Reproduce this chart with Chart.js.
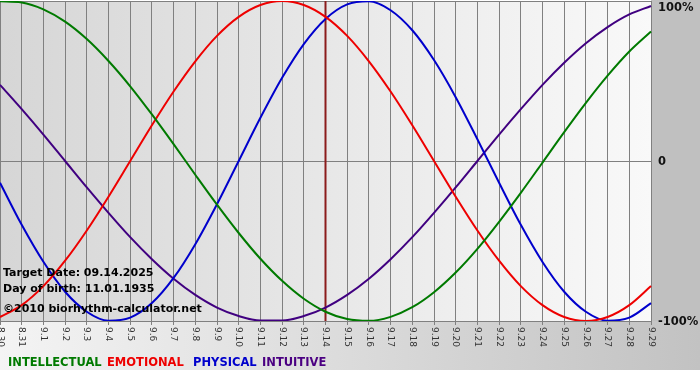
<!DOCTYPE html>
<html>
<head>
<meta charset="utf-8">
<script src="https://cdn.jsdelivr.net/npm/chart.js@4"></script>
<style>
    html, body { margin: 0; padding: 0; background: #ffffff; }
    canvas { display: block; }
</style>
</head>
<body>
<canvas id="bioChart" width="700" height="380"></canvas>
<script>
// Days shown on the x axis (month.day)
const dayLabels = [
    "8.30", "8.31", "9.1", "9.2", "9.3", "9.4", "9.5", "9.6", "9.7", "9.8",
    "9.9", "9.10", "9.11", "9.12", "9.13", "9.14", "9.15", "9.16", "9.17", "9.18",
    "9.19", "9.20", "9.21", "9.22", "9.23", "9.24", "9.25", "9.26", "9.27", "9.28", "9.29"
];

// Cycle values in percent
const intellectual = [
    99.8, 99.1, 94.8, 87.1, 76.2, 62.5, 46.7, 29.1, 10.5, -8.6,
    -27.3, -45.0, -61.1, -74.9, -86.1, -94.2, -98.8, -99.9, -97.4, -91.4,
    -82.0, -69.7, -54.9, -38.0, -19.9, -1.0, 18.0, 36.3, 53.3, 68.4, 80.9
];
const emotional = [
    -97.5, -90.1, -78.2, -62.3, -43.4, -22.3, 0.0, 22.3, 43.4, 62.3,
    78.2, 90.1, 97.5, 100.0, 97.5, 90.1, 78.2, 62.3, 43.4, 22.3,
    0.0, -22.3, -43.4, -62.3, -78.2, -90.1, -97.5, -100.0, -97.5, -90.1, -78.2
];
const physical = [
    -13.6, -39.9, -63.0, -81.7, -94.2, -99.8, -97.9, -88.8, -73.1, -52.0,
    -27.0, 0.0, 27.0, 52.0, 73.1, 88.8, 97.9, 99.8, 94.2, 81.7,
    63.1, 39.9, 13.6, -13.6, -39.9, -63.1, -81.7, -94.2, -99.8, -97.9, -88.8
];
const intuitive = [
    47.6, 32.4, 16.5, 0.0, -16.5, -32.4, -47.6, -61.4, -73.6, -83.7,
    -91.6, -96.9, -99.7, -99.7, -96.9, -91.6, -83.7, -73.6, -61.4, -47.6,
    -32.4, -16.5, 0.0, 16.5, 32.4, 47.6, 61.4, 73.6, 83.7, 91.6, 96.9
];

const targetDay = "9.14";
const infoLines = ["Target Date: 09.14.2025", "Day of birth: 11.01.1935", "\u00a92010 biorhythm-calculator.net"];
const legendNames = ["INTELLECTUAL", "EMOTIONAL", "PHYSICAL", "INTUITIVE"];
const legendColors = ["#007a00", "#ee0000", "#0000cc", "#4b0082"];
const yTickValues = [100, 0, -100];
const yTickLabels = ["100%", "0", "-100%"];

// backgrounds behind the chart
const backdropPlugin = {
    id: 'backdrop',
    beforeDraw(chart) {
        const ctx = chart.ctx;
        const area = chart.chartArea;
        ctx.save();
        ctx.fillStyle = '#ffffff';
        ctx.fillRect(0, 0, chart.width, chart.height);

        // right strip next to the plot
        ctx.fillStyle = '#c0c0c0';
        ctx.fillRect(area.right, 0, chart.width - area.right, area.bottom);

        // bottom band under the plot
        let g = ctx.createLinearGradient(0, 0, chart.width, 0);
        g.addColorStop(0, '#f4f4f4');
        g.addColorStop(1, '#c2c2c2');
        ctx.fillStyle = g;
        ctx.fillRect(0, area.bottom, chart.width, 370 - area.bottom);

        // plot area
        g = ctx.createLinearGradient(area.left, 0, area.right, 0);
        g.addColorStop(0, '#d6d6d6');
        g.addColorStop(1, '#f9f9f9');
        ctx.fillStyle = g;
        ctx.fillRect(area.left, area.top, area.right - area.left, area.bottom - area.top);
        ctx.restore();
    },
    beforeDatasetsDraw(chart) {
        // marker for the target date
        const ctx = chart.ctx;
        const area = chart.chartArea;
        const x = chart.scales.x.getPixelForValue(dayLabels.indexOf(targetDay));
        ctx.save();
        ctx.strokeStyle = '#8b1c1c';
        ctx.lineWidth = 2;
        ctx.beginPath();
        ctx.moveTo(x, area.top);
        ctx.lineTo(x, area.bottom);
        ctx.stroke();
        ctx.restore();
    },
    afterDraw(chart) {
        const ctx = chart.ctx;
        const area = chart.chartArea;
        const xs = chart.scales.x;
        const ys = chart.scales.y;
        ctx.save();

        // x tick labels, rotated to read top-down
        ctx.fillStyle = '#333333';
        ctx.font = '9px "DejaVu Sans"';
        ctx.textAlign = 'left';
        ctx.textBaseline = 'middle';
        dayLabels.forEach((lab, i) => {
            const x = xs.getPixelForValue(i);
            ctx.save();
            ctx.translate(x, area.bottom + 6);
            ctx.rotate(Math.PI / 2);
            ctx.fillText(lab, 0, 0);
            ctx.restore();
        });

        // y labels on the right
        ctx.fillStyle = '#111111';
        ctx.font = 'bold 11.5px "DejaVu Sans"';
        yTickValues.forEach((v, i) => {
            const y = Math.max(ys.getPixelForValue(v), 7);
            ctx.fillText(yTickLabels[i], area.right + 7, y + 1);
        });

        // info text
        ctx.font = 'bold 11px "DejaVu Sans"';
        ctx.fillStyle = '#000000';
        ctx.textBaseline = 'alphabetic';
        ctx.fillText(infoLines[0], 3, 276);
        ctx.fillText(infoLines[1], 3, 292);
        ctx.fillText(infoLines[2], 3, 312);

        // legend
        const legendX = [8, 107, 193, 262];
        ctx.font = 'bold 11.5px "DejaVu Sans"';
        legendNames.forEach((name, i) => {
            ctx.fillStyle = legendColors[i];
            ctx.fillText(name, legendX[i], 366);
        });
        ctx.restore();
    }
};

function lineSet(label, data, color) {
    return {
        label: label,
        data: data,
        borderColor: color,
        borderWidth: 2,
        pointRadius: 0,
        fill: false,
        cubicInterpolationMode: 'monotone'
    };
}

const ctx = document.getElementById('bioChart').getContext('2d');
const bioChart = new Chart(ctx, {
    type: 'line',
    data: {
        labels: dayLabels,
        datasets: [
            lineSet("Intellectual", intellectual, "#007a00"),
            lineSet("Emotional", emotional, "#ee0000"),
            lineSet("Physical", physical, "#0000cc"),
            lineSet("Intuitive", intuitive, "#400080")
        ]
    },
    options: {
        responsive: false,
        animation: false,
        layout: {
            padding: { left: 0, top: 1, right: 49, bottom: 55 }
        },
        plugins: {
            legend: { display: false },
            tooltip: { enabled: false }
        },
        scales: {
            x: {
                type: 'category',
                offset: false,
                border: { display: false },
                grid: { color: '#808080', lineWidth: 1, drawTicks: true, tickLength: 4 },
                ticks: { display: false }
            },
            y: {
                position: 'right',
                min: -100,
                max: 100,
                border: { display: false },
                grid: { color: '#808080', lineWidth: 1, drawTicks: false },
                ticks: { display: false, stepSize: 100 }
            }
        }
    },
    plugins: [backdropPlugin]
});
</script>
</body>
</html>
